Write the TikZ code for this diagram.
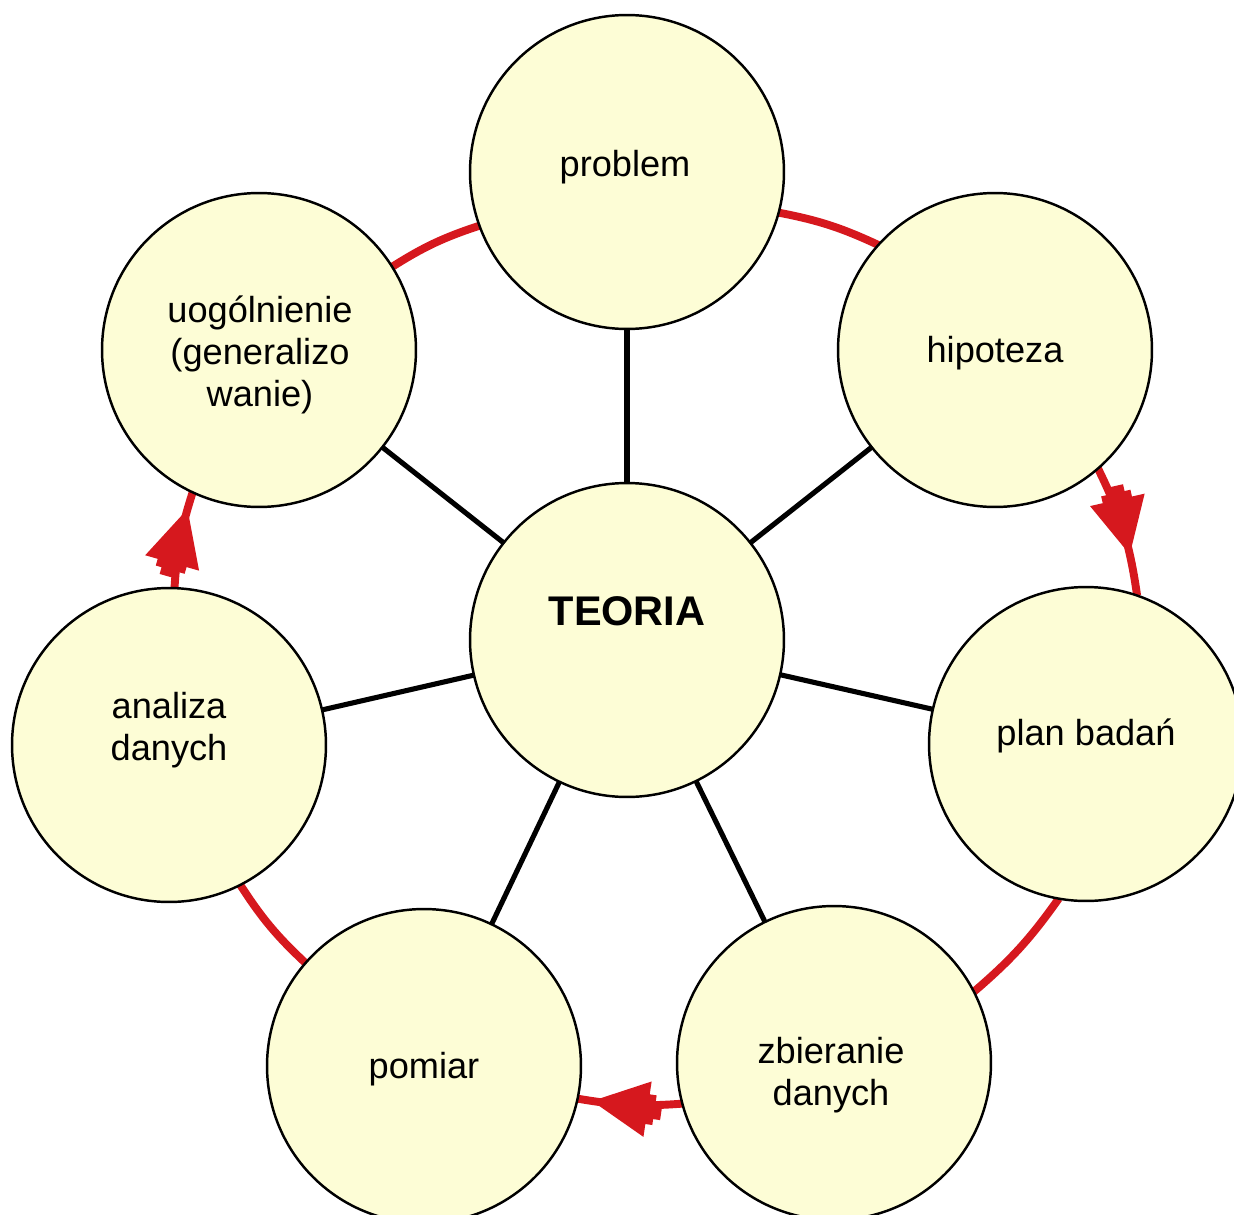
\documentclass[tikz,border=0pt]{standalone}
\usepackage{fontspec}
\setmainfont{Liberation Sans}
\usetikzlibrary{decorations.markings}

\definecolor{bubblefill}{RGB}{253,253,214}
\definecolor{ringred}{RGB}{214,24,30}

\pgfdeclarelayer{background}
\pgfsetlayers{background,main}

\tikzset{
  bubble/.style={circle, draw=black, line width=1.4pt, fill=bubblefill,
    minimum size=6.28cm, inner sep=0pt, outer sep=0pt},
  txt/.style={font=\fontsize{20.6}{24}\selectfont, align=center, inner sep=0pt},
  hubtxt/.style={font=\fontsize{23.6}{27}\selectfont\bfseries, inner sep=0pt},
  spoke/.style={draw=black, line width=2.9pt},
  ring/.style={draw=ringred, line width=4.5pt, bend left=7},
  flowarrow/.style={postaction={decorate}, decoration={markings,
    mark=at position #1 with {\fill[ringred] (1,0) -- (-55,28) -- (-55,15)
      -- (-62,15) -- (-62,9) -- (-69,9) -- (-69,-9) -- (-62,-9) -- (-62,-15)
      -- (-55,-15) -- (-55,-28) -- cycle;}}},
}

\begin{document}
\begin{tikzpicture}[x=0.02cm, y=0.02cm]
  \useasboundingbox (0,0) rectangle (1234,-1214);

  % circles
  \node[bubble] (teoria) at (627,-640) {};
  \node[bubble] (prob)   at (627,-172) {};
  \node[bubble] (hip)    at (995,-350) {};
  \node[bubble] (plan)   at (1086,-744) {};
  \node[bubble] (zbier)  at (834,-1063) {};
  \node[bubble] (pom)    at (424,-1066) {};
  \node[bubble] (anal)   at (169,-745) {};
  \node[bubble] (uog)    at (259,-350) {};

  % labels
  \node[hubtxt, anchor=base] (tteoria) at (627,-625) {TEORIA};
  \node[txt, anchor=base] (tprob)  at (625,-176) {problem};
  \node[txt, anchor=base] (thip)   at (995,-362) {hipoteza};
  \node[txt, anchor=base] (tplan)  at (1086,-745) {plan badań};
  \node[txt] (tzbier) at (831,-1075) {zbieranie\\danych};
  \node[txt, anchor=base] (tpom)   at (424,-1078) {pomiar};
  \node[txt] (tanal)  at (169,-730) {analiza\\danych};
  \node[txt] (tuog)   at (260,-355) {uogólnienie\\(generalizo\\wanie)};

  \begin{pgfonlayer}{background}
    \fill[white] (0,0) rectangle (1234,-1214);
    % spokes from the hub
    \foreach \n in {prob,hip,plan,zbier,pom,anal,uog}
      \draw[spoke] (teoria) -- (\n);
    % red cycle
    \draw[ring] (uog.32) to (prob.200);
    \draw[ring] (prob.-15) to (hip.138);
    \draw[ring, bend left=9, flowarrow=0.68] (hip.-49) to (plan.71);
    \draw[ring] (plan.260) to (zbier.27);
    \draw[ring, flowarrow=0.85] (zbier.195) to (pom.-12);
    \draw[ring] (pom.139) to (anal.-63);
    \draw[ring, flowarrow=0.81] (anal.88) to (uog.245);
  \end{pgfonlayer}
\end{tikzpicture}
\end{document}
